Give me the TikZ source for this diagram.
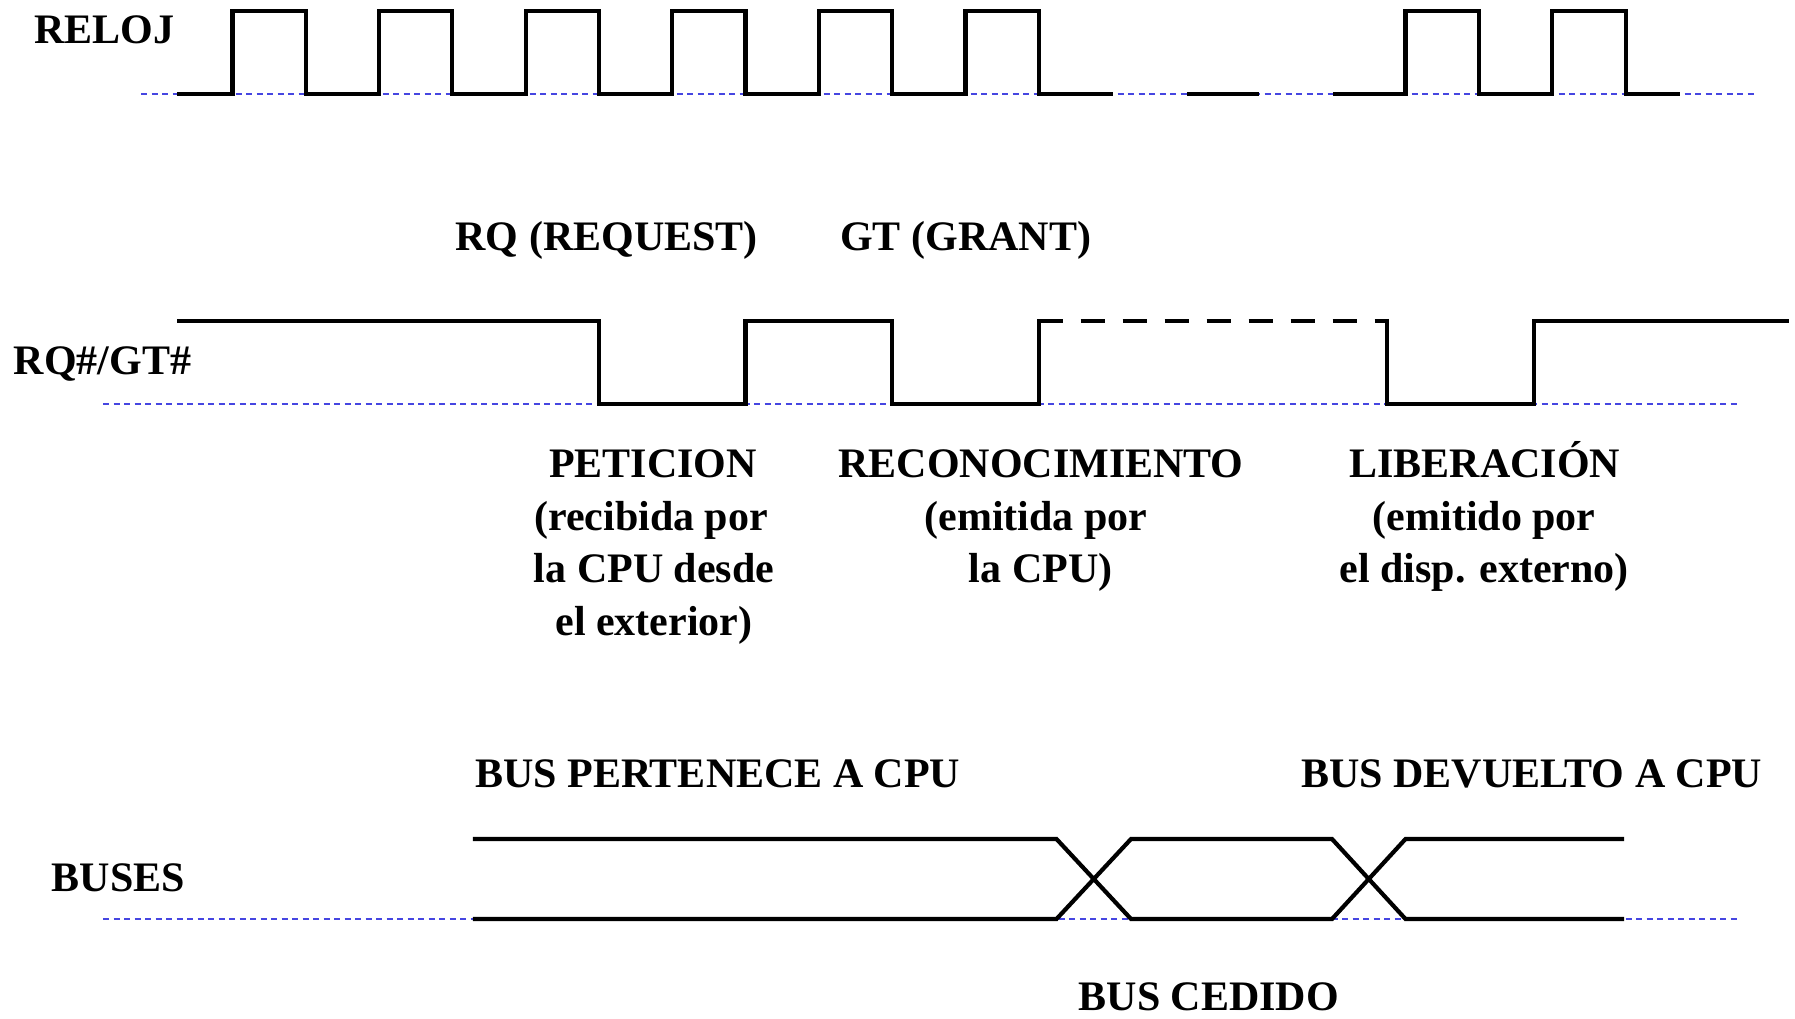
\documentclass[tikz,border=0pt]{standalone}
\usepackage{fontspec}
\setmainfont{Liberation Serif}
\begin{document}
\begin{tikzpicture}[x=1pt,y=-1pt,
  sig/.style={line width=4.2pt,line join=miter,line cap=butt},
  base/.style={draw={rgb,255:red,70;green,70;blue,225},line width=1.4pt,dash pattern=on 6pt off 4.5pt},
  lbl/.style={inner sep=0pt,font=\fontsize{42}{52}\selectfont\bfseries}]
\useasboundingbox (0,0) rectangle (1795,1019);
% baselines
\draw[base] (141,94) -- (1754,94);
\draw[base] (103,404) -- (1737,404);
\draw[base] (103,919) -- (1737,919);
% clock
\draw[sig] (177.4,94) -- (232.4,94) -- (232.4,11.4) -- (305.7,11.4) -- (305.7,94)
  -- (379,94) -- (379,11.4) -- (452.3,11.4) -- (452.3,94)
  -- (525.6,94) -- (525.6,11.4) -- (598.9,11.4) -- (598.9,94)
  -- (672.2,94) -- (672.2,11.4) -- (745.5,11.4) -- (745.5,94)
  -- (818.8,94) -- (818.8,11.4) -- (892.1,11.4) -- (892.1,94)
  -- (965.4,94) -- (965.4,11.4) -- (1038.7,11.4) -- (1038.7,94) -- (1112.7,94);
\draw[sig] (1187,94) -- (1259,94);
\draw[sig] (1333,94) -- (1405.5,94) -- (1405.5,11.4) -- (1479,11.4) -- (1479,94)
  -- (1552,94) -- (1552,11.4) -- (1626,11.4) -- (1626,94) -- (1680,94);
% RQ/GT
\draw[sig] (177.4,321) -- (599,321) -- (599,404) -- (745.5,404) -- (745.5,321)
  -- (892,321) -- (892,404) -- (1038.7,404) -- (1038.7,318.9);
\draw[sig,dash pattern=on 24pt off 18pt] (1038.7,321) -- (1387,321);
\draw[sig] (1387,318.9) -- (1387,404) -- (1533.8,404) -- (1533.8,321) -- (1789,321);
% buses
\draw[sig] (472.8,839) -- (1056.5,839) -- (1131,919) -- (1332,919) -- (1405.5,839) -- (1624,839);
\draw[sig] (472.8,919) -- (1056.5,919) -- (1131,839) -- (1332,839) -- (1405.5,919) -- (1624,919);
% labels
\node[lbl,anchor=base west] (reloj) at (34.3,43.5) {RELOJ};
\node[lbl,anchor=base west] (rqgt) at (13.7,374.3) {RQ\#/GT\#};
\node[lbl,anchor=base west] (buses) at (51.5,891.8) {BUSES};
\node[lbl,anchor=base] (rq) at (606.7,250.7) {RQ (REQUEST)};
\node[lbl,anchor=base] (gt) at (965.6,250.7) {GT (GRANT)};
\node[lbl,anchor=base] (p1) at (653,477.4) {PETICION};
\node[lbl,anchor=base] (p2) at (651,530) {(recibida por};
\node[lbl,anchor=base] (p3) at (654,582.6) {la CPU desde};
\node[lbl,anchor=base] (p4) at (654,635.2) {el exterior)};
\node[lbl,anchor=base] (r1) at (1041,477.4) {RECONOCIMIENTO};
\node[lbl,anchor=base] (r2) at (1036,530) {(emitida por};
\node[lbl,anchor=base] (r3) at (1040.6,582.6) {la CPU)};
\node[lbl,anchor=base] (l1) at (1484.8,477.4) {LIBERACIÓN};
\node[lbl,anchor=base] (l2) at (1484.2,530) {(emitido por};
\node[lbl,anchor=base] (l3) at (1484.2,582.6) {el disp. externo)};
\node[lbl,anchor=base] (bp) at (717.8,787.6) {BUS PERTENECE A CPU};
\node[lbl,anchor=base] (bd) at (1531.7,787.6) {BUS DEVUELTO A CPU};
\node[lbl,anchor=base,text depth=0pt] (bc) at (1208.9,1010) {BUS CEDIDO};
\end{tikzpicture}
\end{document}
